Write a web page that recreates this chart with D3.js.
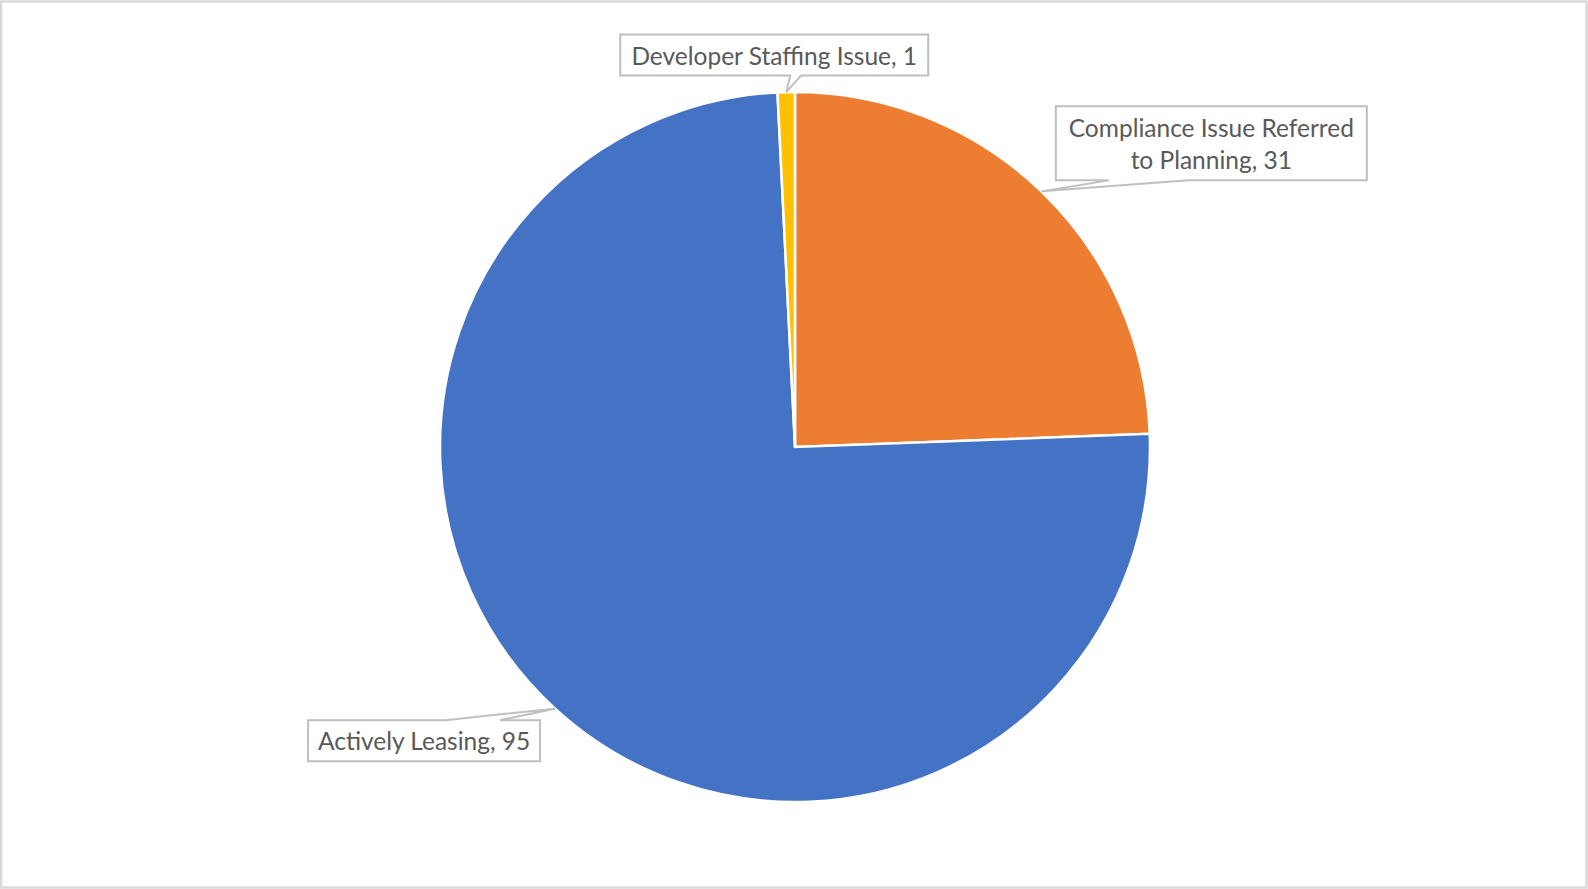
<!DOCTYPE html>
<html>
<head>
    <meta charset="utf-8">
    <script src="https://d3js.org/d3.v7.min.js"></script>
    <style>
        body { margin: 0; background: #fff; }
        svg { display: block; }
    </style>
</head>
<body>
    <svg width="1588" height="889"></svg>
    <script>
        // data, in drawing order (clockwise from 12 o'clock)
        const categories = ["Compliance Issue Referred to Planning", "Actively Leasing", "Developer Staffing Issue"]
        const values = [31, 95, 1]
        const colors = ["#ED7D31", "#4472C4", "#FFC000"]
        // label lines as shown in the callouts
        const labelLines = [
            ["Compliance Issue Referred", "to Planning, 31"],
            ["Actively Leasing, 95"],
            ["Developer Staffing Issue, 1"]
        ]

        // callout box layout: center offset from the tip, size, and pointer base along the edge
        const boxLayout = [
            {dx: 170, dy: -48, w: 311, h: 74, side: "bottom", b0: 53, b1: 133},
            {dx: -131, dy: 32, w: 232, h: 41, side: "top", b0: 137, b1: 192},
            {dx: -12, dy: -37, w: 308, h: 41, side: "bottom", b0: 170, b1: 181}
        ]

        const svg = d3.select("svg")
        const width = +svg.attr("width")
        const height = +svg.attr("height")

        svg.append("rect")
            .attr("x", 1).attr("y", 1.5)
            .attr("width", width - 2.5).attr("height", height - 3)
            .attr("fill", "#fff")
            .attr("stroke", "#d9d9d9")
            .attr("stroke-width", 2.5)

        const cx = 795, cy = 447, r = 355

        const pie = d3.pie().sort(null).value(d => d)
        const arcs = pie(values)
        const arc = d3.arc().innerRadius(0).outerRadius(r)
        const edge = d3.arc().innerRadius(r).outerRadius(r)

        const g = svg.append("g").attr("transform", `translate(${cx},${cy})`)

        g.selectAll("path.slice")
            .data(arcs)
            .enter()
            .append("path")
            .attr("class", "slice")
            .attr("d", arc)
            .attr("fill", (d, i) => colors[i])
            .attr("stroke", "#fff")
            .attr("stroke-width", 2.5)
            .attr("stroke-linejoin", "miter")

        // callouts
        const labels = g.selectAll("g.callout")
            .data(arcs)
            .enter()
            .append("g")
            .attr("class", "callout")

        labels.append("path")
            .attr("d", (d, i) => {
                const [tx, ty] = edge.centroid(d)
                const b = boxLayout[i]
                const x0 = tx + b.dx - b.w / 2, y0 = ty + b.dy - b.h / 2
                const x1 = x0 + b.w, y1 = y0 + b.h
                const p = d3.path()
                if (b.side === "bottom") {
                    p.moveTo(x0, y0)
                    p.lineTo(x1, y0)
                    p.lineTo(x1, y1)
                    p.lineTo(x0 + b.b1, y1)
                    p.lineTo(tx, ty)
                    p.lineTo(x0 + b.b0, y1)
                    p.lineTo(x0, y1)
                } else {
                    p.moveTo(x0, y0)
                    p.lineTo(x0 + b.b0, y0)
                    p.lineTo(tx, ty)
                    p.lineTo(x0 + b.b1, y0)
                    p.lineTo(x1, y0)
                    p.lineTo(x1, y1)
                    p.lineTo(x0, y1)
                }
                p.closePath()
                return p.toString()
            })
            .attr("fill", "#fff")
            .attr("stroke", "#bfbfbf")
            .attr("stroke-width", 2)

        labels.each(function(d, i) {
            const [tx, ty] = edge.centroid(d)
            const b = boxLayout[i]
            const lines = labelLines[i]
            const lh = 32
            const top = ty + b.dy - (lines.length - 1) * lh / 2
            const t = d3.select(this).append("text")
                .attr("text-anchor", "middle")
                .attr("font-family", "Lato, 'Open Sans', sans-serif")
                .attr("font-size", 24.5)
                .attr("fill", "#595959")
            lines.forEach((s, k) => {
                t.append("tspan")
                    .attr("x", tx + b.dx)
                    .attr("y", top + k * lh)
                    .attr("dy", "0.4em")
                    .text(s)
            })
        })
    </script>
</body>
</html>
